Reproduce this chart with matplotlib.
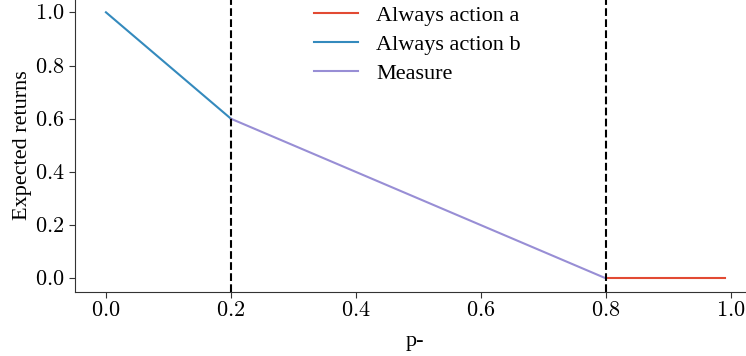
import numpy as np
import matplotlib
matplotlib.use("Agg")
import matplotlib.pyplot as plt
from matplotlib.ticker import FuncFormatter

# data
p_b = [0.0, 0.2]
ret_b = [1.0, 0.6]
p_m = [0.2, 0.8]
ret_m = [0.6, 0.0]
p_a = [0.8, 0.99]
ret_a = [0.0, 0.0]
thresholds = [0.2, 0.8]
labels = ["Always action a", "Always action b", "Measure"]
colors = ["#E24A33", "#348ABD", "#988ED5"]

plt.rcParams['font.family'] = ['Liberation Serif', 'DejaVu Serif']
plt.rcParams['mathtext.fontset'] = 'cm'

fig = plt.figure(figsize=(7.46, 3.56), dpi=100)
W, H = 746, 356
ax = fig.add_axes([75 / W, (H - 291.7) / H, (755.7 - 75) / W, (291.7 + 1) / H])

ax.plot(p_a, ret_a, color=colors[0], lw=1.5, label=labels[0])
ax.plot(p_b, ret_b, color=colors[1], lw=1.5, label=labels[1])
ax.plot(p_m, ret_m, color=colors[2], lw=1.5, label=labels[2])
for t in thresholds:
    ax.axvline(t, color='black', ls='--', lw=1.5)

ax.set_xlim(-0.0495, 1.0395)
ax.set_ylim(-0.05, 1.05)
ax.set_xticks([0.0, 0.2, 0.4, 0.6, 0.8, 1.0])
ax.set_yticks([0.0, 0.2, 0.4, 0.6, 0.8, 1.0])
fmt = FuncFormatter(lambda v, pos: f"${v:.1f}$")
ax.xaxis.set_major_formatter(fmt)
ax.yaxis.set_major_formatter(fmt)
ax.tick_params(labelsize=16, color='#333333', length=4)
ax.spines['top'].set_visible(False)
ax.spines['right'].set_visible(False)
for s in ['left', 'bottom']:
    ax.spines[s].set_color('#333333')
ax.set_xlabel("p-", fontsize=16, labelpad=7.5)
ax.set_ylabel("Expected returns", fontsize=16, labelpad=2)
ax.legend(loc='upper center', frameon=False, fontsize=16, labelspacing=0.38,
          bbox_to_anchor=(0.503, 1.048))

fig.savefig("out.png", dpi=100)
